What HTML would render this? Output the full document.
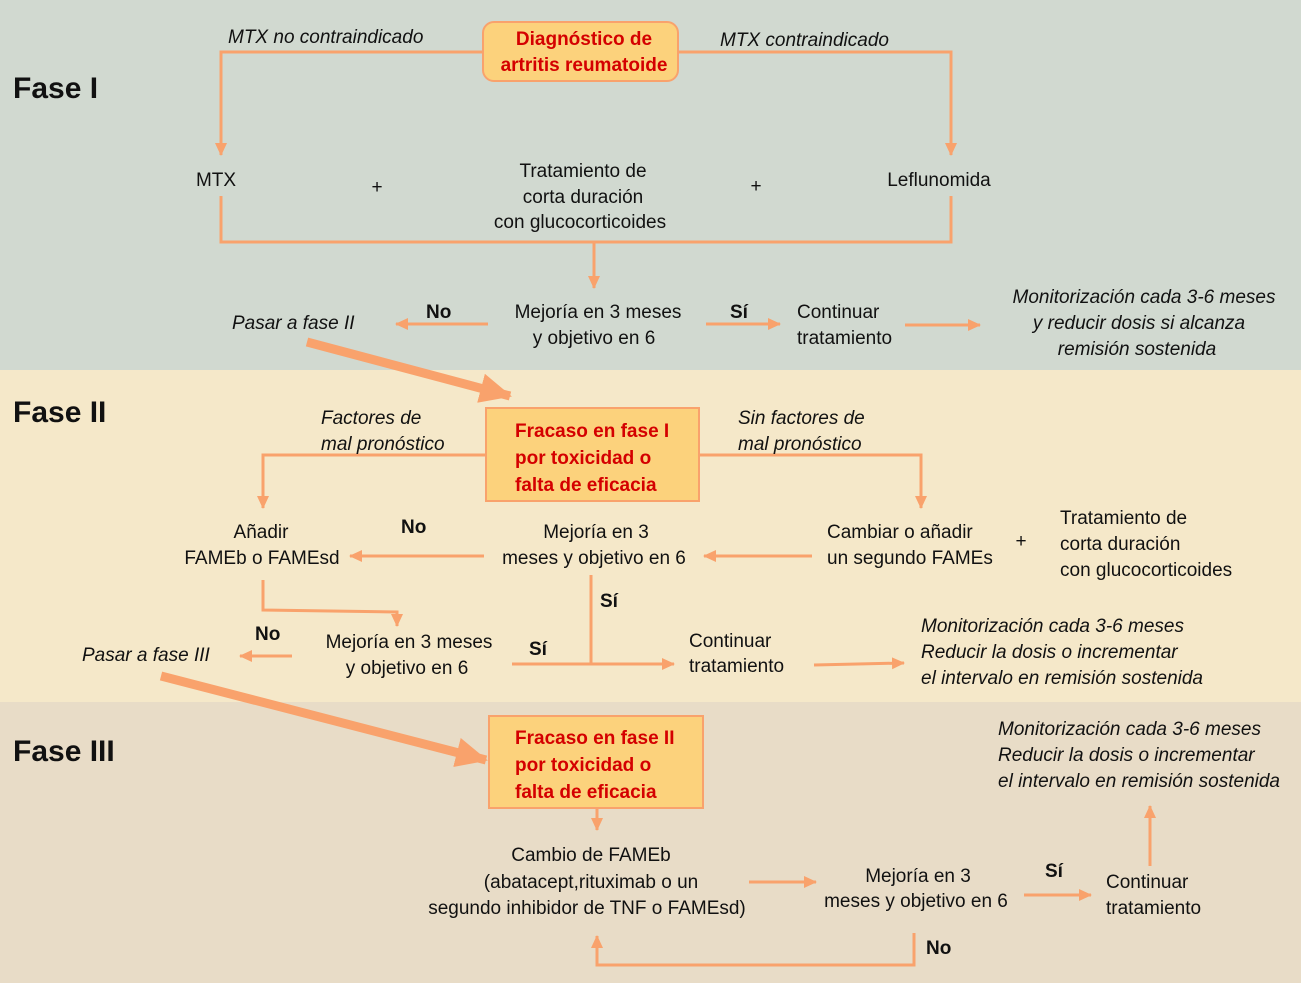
<!DOCTYPE html>
<html><head><meta charset="utf-8"><style>
html,body{margin:0;padding:0;width:1301px;height:983px;overflow:hidden}
svg{display:block}
text{font-family:"Liberation Sans Narrow","Liberation Sans",sans-serif;font-size:19px;fill:#111}
.i{font-style:italic}
.r{fill:#d40000;font-weight:bold}
.b{font-weight:bold;font-size:30px}
.bn{font-weight:bold}
</style></head><body>
<svg width="1301" height="983" viewBox="0 0 1301 983">
<defs>
<marker id="a" markerWidth="14" markerHeight="14" refX="12" refY="7" orient="auto" markerUnits="userSpaceOnUse"><path d="M0,1 L13,7 L0,13 Z" fill="#f9a26c"/></marker>
<marker id="A" markerWidth="40" markerHeight="40" refX="30" refY="15" orient="auto" markerUnits="userSpaceOnUse"><path d="M0,0 L32,15 L0,30 Z" fill="#f9a26c"/></marker>
</defs>
<rect x="0" y="0" width="1301" height="370" fill="#d1d9d0"/>
<rect x="0" y="370" width="1301" height="332" fill="#f5e8c9"/>
<rect x="0" y="702" width="1301" height="281" fill="#e8dcc7"/>
<g stroke="#f9a26c" stroke-width="3" fill="none">
<polyline points="483,52 221,52 221,155" marker-end="url(#a)"/>
<polyline points="678,52 951,52 951,155" marker-end="url(#a)"/>
<polyline points="221,196 221,242 951,242 951,196"/>
<line x1="594" y1="242" x2="594" y2="288" marker-end="url(#a)"/>
<line x1="488" y1="324" x2="396" y2="324" marker-end="url(#a)"/>
<line x1="706" y1="324" x2="780" y2="324" marker-end="url(#a)"/>
<line x1="905" y1="325" x2="980" y2="325" marker-end="url(#a)"/>
<polyline points="486,455 263,455 263,508" marker-end="url(#a)"/>
<polyline points="700,455 921,455 921,508" marker-end="url(#a)"/>
<line x1="812" y1="556" x2="704" y2="556" marker-end="url(#a)"/>
<line x1="484" y1="556" x2="350" y2="556" marker-end="url(#a)"/>
<polyline points="263,580 263,610 397,612 397,626" marker-end="url(#a)"/>
<line x1="292" y1="656" x2="240" y2="656" marker-end="url(#a)"/>
<polyline points="591,575 591,664"/>
<line x1="512" y1="664" x2="674" y2="664" marker-end="url(#a)"/>
<line x1="814" y1="665" x2="904" y2="663" marker-end="url(#a)"/>
<line x1="597" y1="808" x2="597" y2="830" marker-end="url(#a)"/>
<line x1="749" y1="882" x2="816" y2="882" marker-end="url(#a)"/>
<line x1="1024" y1="895" x2="1091" y2="895" marker-end="url(#a)"/>
<line x1="1150" y1="866" x2="1150" y2="806" marker-end="url(#a)"/>
<polyline points="914,933 914,965 597,965 597,936" marker-end="url(#a)"/>
</g>
<g stroke="#f9a26c" stroke-width="9" fill="none">
<line x1="307" y1="342" x2="510" y2="396" marker-end="url(#A)"/>
<line x1="161" y1="676" x2="486" y2="760" marker-end="url(#A)"/>
</g>
<rect x="483" y="22" width="195" height="59" rx="11" fill="#fcd27c" stroke="#f9a26c" stroke-width="2"/>
<rect x="486" y="408" width="213" height="93" fill="#fcd27c" stroke="#f9a26c" stroke-width="2"/>
<rect x="489" y="716" width="214" height="92" fill="#fcd27c" stroke="#f9a26c" stroke-width="2"/>

<text x="13" y="98" class="b">Fase I</text>
<text x="13" y="422" class="b">Fase II</text>
<text x="13" y="761" class="b">Fase III</text>

<text x="584" y="45" class="r" text-anchor="middle">Diagnóstico de</text>
<text x="584" y="71" class="r" text-anchor="middle">artritis reumatoide</text>
<text x="228" y="43" class="i">MTX no contraindicado</text>
<text x="720" y="46" class="i">MTX contraindicado</text>
<text x="216" y="186" text-anchor="middle">MTX</text>
<text x="377" y="193" text-anchor="middle">+</text>
<text x="583" y="177" text-anchor="middle">Tratamiento de</text>
<text x="583" y="203" text-anchor="middle">corta duración</text>
<text x="580" y="228" text-anchor="middle">con glucocorticoides</text>
<text x="756" y="192" text-anchor="middle">+</text>
<text x="939" y="186" text-anchor="middle">Leflunomida</text>
<text x="232" y="329" class="i">Pasar a fase II</text>
<text x="426" y="318" class="bn">No</text>
<text x="598" y="318" text-anchor="middle">Mejoría en 3 meses</text>
<text x="594" y="344" text-anchor="middle">y objetivo en 6</text>
<text x="730" y="318" class="bn">Sí</text>
<text x="797" y="318">Continuar</text>
<text x="797" y="344">tratamiento</text>
<text x="1144" y="303" class="i" text-anchor="middle">Monitorización cada 3-6 meses</text>
<text x="1139" y="329" class="i" text-anchor="middle">y reducir dosis si alcanza</text>
<text x="1137" y="355" class="i" text-anchor="middle">remisión sostenida</text>

<text x="515" y="437" class="r">Fracaso en fase I</text>
<text x="515" y="464" class="r">por toxicidad o</text>
<text x="515" y="491" class="r">falta de eficacia</text>
<text x="321" y="424" class="i">Factores de</text>
<text x="321" y="450" class="i">mal pronóstico</text>
<text x="738" y="424" class="i">Sin factores de</text>
<text x="738" y="450" class="i">mal pronóstico</text>
<text x="261" y="538" text-anchor="middle">Añadir</text>
<text x="262" y="564" text-anchor="middle">FAMEb o FAMEsd</text>
<text x="401" y="533" class="bn">No</text>
<text x="596" y="538" text-anchor="middle">Mejoría en 3</text>
<text x="594" y="564" text-anchor="middle">meses y objetivo en 6</text>
<text x="827" y="538">Cambiar o añadir</text>
<text x="827" y="564">un segundo FAMEs</text>
<text x="1021" y="547" text-anchor="middle">+</text>
<text x="1060" y="524">Tratamiento de</text>
<text x="1060" y="550">corta duración</text>
<text x="1060" y="576">con glucocorticoides</text>
<text x="600" y="607" class="bn">Sí</text>
<text x="255" y="640" class="bn">No</text>
<text x="409" y="648" text-anchor="middle">Mejoría en 3 meses</text>
<text x="407" y="674" text-anchor="middle">y objetivo en 6</text>
<text x="529" y="655" class="bn">Sí</text>
<text x="82" y="661" class="i">Pasar a fase III</text>
<text x="689" y="647">Continuar</text>
<text x="689" y="672">tratamiento</text>
<text x="921" y="632" class="i">Monitorización cada 3-6 meses</text>
<text x="921" y="658" class="i">Reducir la dosis o incrementar</text>
<text x="921" y="684" class="i">el intervalo en remisión sostenida</text>

<text x="515" y="744" class="r">Fracaso en fase II</text>
<text x="515" y="771" class="r">por toxicidad o</text>
<text x="515" y="798" class="r">falta de eficacia</text>
<text x="998" y="735" class="i">Monitorización cada 3-6 meses</text>
<text x="998" y="761" class="i">Reducir la dosis o incrementar</text>
<text x="998" y="787" class="i">el intervalo en remisión sostenida</text>
<text x="591" y="861" text-anchor="middle">Cambio de FAMEb</text>
<text x="591" y="888" text-anchor="middle">(abatacept,rituximab o un</text>
<text x="587" y="914" text-anchor="middle">segundo inhibidor de TNF o FAMEsd)</text>
<text x="918" y="882" text-anchor="middle">Mejoría en 3</text>
<text x="916" y="907" text-anchor="middle">meses y objetivo en 6</text>
<text x="1045" y="877" class="bn">Sí</text>
<text x="1106" y="888">Continuar</text>
<text x="1106" y="914">tratamiento</text>
<text x="926" y="954" class="bn">No</text>
</svg>
</body></html>
